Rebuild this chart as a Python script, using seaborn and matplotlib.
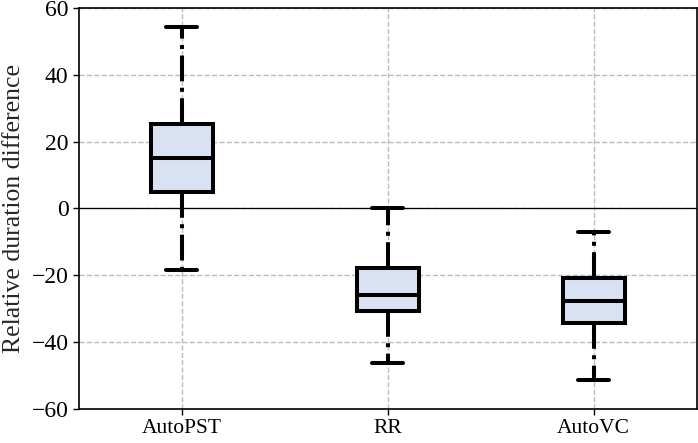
import matplotlib
matplotlib.use("Agg")
import matplotlib.pyplot as plt
import seaborn as sns
import pandas as pd

# Five-number summaries: [lower whisker, Q1, median, Q3, upper whisker]
categories = ["AutoPST", "RR", "AutoVC"]
autopst = [-18.5, 5.0, 15.0, 25.3, 54.2]
rr = [-46.3, -30.8, -26.0, -17.8, 0.0]
autovc = [-51.5, -34.2, -27.8, -20.8, -7.1]
yticks = [-60, -40, -20, 0, 20, 40, 60]

df = pd.DataFrame({
    "method": sum([[c] * 5 for c in categories], []),
    "value": autopst + rr + autovc,
})

sns.set_style("ticks")
plt.rcParams["font.family"] = ["Liberation Serif", "DejaVu Serif"]

fig, ax = plt.subplots(figsize=(6.98, 4.43), dpi=100)
fig.subplots_adjust(left=0.113, right=0.998, top=0.982, bottom=0.077)

lw = 2.9
sns.boxplot(
    data=df, x="method", y="value", order=categories, ax=ax,
    whis=(0, 100), width=0.3, color="#d9e2f3", linecolor="black", linewidth=lw,
    boxprops=dict(facecolor="#d9e2f3", edgecolor="black", linewidth=lw),
    whiskerprops=dict(color="black", linewidth=lw, linestyle="-."),
    capprops=dict(color="black", linewidth=lw),
    medianprops=dict(color="black", linewidth=lw),
    showfliers=False, zorder=3,
)

ax.set_xlim(-0.5, 2.5)
ax.set_ylim(-60, 60)
ax.set_yticks(yticks)
ax.set_yticklabels([("\u2212" + str(abs(v))) if v < 0 else str(v) for v in yticks])
ax.grid(True, linestyle="--", color="#bbbbbb", linewidth=1.0, zorder=0)
ax.set_axisbelow(True)
ax.axhline(0, color="black", linewidth=0.9, zorder=1)
ax.set_xlabel("")
ax.set_ylabel("Relative duration difference", fontsize=18.5, labelpad=5)
ax.tick_params(axis="y", labelsize=17, direction="out", length=4, width=1, colors="black")
ax.tick_params(axis="x", labelsize=15.5, direction="out", length=4, width=1, colors="black")
for s in ax.spines.values():
    s.set_visible(True)
    s.set_color("black")
    s.set_linewidth(1.2)

fig.savefig("out.png", dpi=100)
